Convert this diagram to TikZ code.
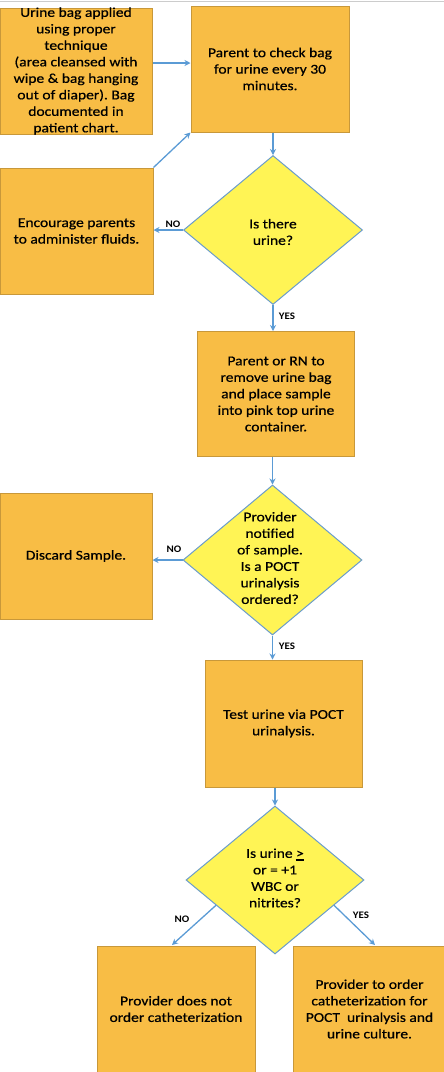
\documentclass[tikz,border=0pt]{standalone}
\usepackage{fontspec}
\setmainfont[FakeStretch=1.15,FakeBold=0.6]{Carlito}
\newfontfamily\labfont[FakeStretch=1.1]{Carlito}
\usetikzlibrary{shapes.geometric,arrows.meta,calc}
\definecolor{boxfill}{HTML}{F8BD45}
\definecolor{boxline}{HTML}{C8983A}
\definecolor{diafill}{HTML}{FFF455}
\definecolor{diaedge}{HTML}{6A9CCB}
\definecolor{arr}{HTML}{5B9BD5}
\frenchspacing
\begin{document}
\begin{tikzpicture}[x=1pt,y=-1pt,
  box/.style={draw=boxline, fill=boxfill, line width=1pt, rectangle, inner sep=0pt,
    minimum width=157pt, minimum height=126pt, align=center,
    font=\fontsize{13.5}{16.5}\selectfont},
  dia/.style={draw=diaedge, fill=diafill, line width=1pt, diamond, inner sep=0pt,
    minimum width=179pt, minimum height=149pt},
  txt/.style={align=center, inner sep=0pt, font=\fontsize{13.5}{16.5}\selectfont},
  lab/.style={inner sep=0pt, font=\labfont\bfseries\fontsize{10}{12}\selectfont},
  conn/.style={draw=arr, line width=1.3pt, -{Stealth[length=6pt,width=6pt]}}
]
\useasboundingbox (0,0) rectangle (444,1072);
\draw[gray!40, line width=1pt] (0,1) -- (444,1);

% boxes
\node[box, minimum width=152pt, label={[txt]center:{Urine bag applied\\using proper\\technique\\(area cleansed with\\wipe \& bag hanging\\out of diaper). Bag\\documented in\\patient chart.}}] (b1) at (76,71) {};
\node[box, minimum width=158pt] (b2) at (270,69) {Parent to check bag\\for urine every 30\\minutes.};
\node[box, minimum width=153pt] (enc) at (76.5,231) {Encourage parents\\to administer fluids.};
\node[dia] (d1) at (273,230) {};
\node[txt] (d1t) at (273,232) {Is there\\urine?};
\node[box, minimum width=157pt, minimum height=125pt] (b3) at (276,394) {Parent or RN to\\remove urine bag\\and place sample\\into pink top urine\\container.};
\node[box, minimum width=152pt] (dis) at (76,556) {Discard Sample.};
\node[dia, minimum height=150pt] (d2) at (272.5,560) {};
\node[txt] (d2t) at (270,558) {Provider\\notified\\of sample.\\Is a POCT\\urinalysis\\ordered?};
\node[box, minimum width=157pt, minimum height=127pt] (b4) at (283.5,723.5) {Test urine via POCT\\urinalysis.};
\node[dia, minimum width=178pt, minimum height=148pt] (d3) at (275,880) {};
\node[txt] (d3t) at (275,878) {Is urine >\llap{\rule[-3.5pt]{0.6em}{2pt}}\\or = +1\\WBC or\\nitrites?};
\node[box, minimum width=158pt] (b5) at (176,1009) {Provider does not\\order catheterization};
\node[box, minimum width=153pt] (b6) at (369.5,1009) {Provider to order\\catheterization for\\POCT\ \ urinalysis and\\urine culture.};

% connectors
\draw[conn] (b1.east |- 0,63) -- (b2.west |- 0,63);
\draw[conn] (enc.north east) -- (b2.south west);
\draw[conn] (b2.south -| d1.north) -- (d1.north);
\draw[conn] (d1.west) -- (enc.east |- d1.west);
\draw[conn] (d1.south) -- (b3.north -| d1.south);
\draw[conn] (b3.south -| d2.north) -- (d2.north);
\draw[conn] (d2.west) -- (dis.east |- d2.west);
\draw[conn] (d2.south) -- (b4.north -| d2.south);
\draw[conn] (b4.south -| d3.north) -- (d3.north);
\coordinate (noend) at (172,945);
\coordinate (yesend) at (375,945);
\draw[conn] ($(d3.west)!0.34!(d3.south)$) -- (noend);
\draw[conn] ($(d3.east)!0.34!(d3.south)$) -- (yesend);

% labels
\node[lab] (l1) at (173,224) {NO};
\node[lab] (l2) at (287,316) {YES};
\node[lab] (l3) at (174,549) {NO};
\node[lab] (l4) at (287,646) {YES};
\node[lab] (l5) at (182,919) {NO};
\node[lab] (l6) at (361,915) {YES};
\end{tikzpicture}
\end{document}
